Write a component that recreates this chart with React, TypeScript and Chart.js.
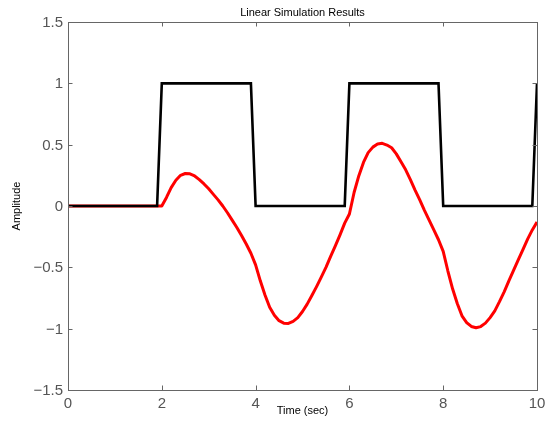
import React, { useEffect, useRef } from "react";
import { Chart, registerables } from "chart.js";

Chart.register(...registerables);

const titleText = "Linear Simulation Results";
const xLabel = "Time (sec)";
const yLabel = "Amplitude";

const xTicks = [0, 2, 4, 6, 8, 10];
const yTicks = [-1.5, -1, -0.5, 0, 0.5, 1, 1.5];

// Input signal (square wave)
const inputTime = [0, 1.9, 2, 3.9, 4, 5.9, 6, 7.9, 8, 9.9, 10];
const inputValue = [0, 0, 1, 1, 0, 0, 1, 1, 0, 0, 1];

// Simulated response
const responseTime = [
  0, 2.0, 2.1, 2.2, 2.3, 2.4, 2.5, 2.6, 2.7, 2.8, 2.9,
  3.0, 3.1, 3.2, 3.3, 3.4, 3.5, 3.6, 3.7, 3.8, 3.9,
  4.0, 4.1, 4.2, 4.3, 4.4, 4.5, 4.6, 4.7, 4.8, 4.9,
  5.0, 5.1, 5.2, 5.3, 5.4, 5.5, 5.6, 5.7, 5.8, 5.9,
  6.0, 6.1, 6.2, 6.3, 6.4, 6.5, 6.6, 6.7, 6.8, 6.9,
  7.0, 7.1, 7.2, 7.3, 7.4, 7.5, 7.6, 7.7, 7.8, 7.9,
  8.0, 8.1, 8.2, 8.3, 8.4, 8.5, 8.6, 8.7, 8.8, 8.9,
  9.0, 9.1, 9.2, 9.3, 9.4, 9.5, 9.6, 9.7, 9.8, 9.9,
  10.0,
];
const responseValue = [
  0, 0, 0.07, 0.15, 0.21, 0.25, 0.265, 0.262, 0.245, 0.215, 0.18,
  0.14, 0.095, 0.05, 0.0, -0.055, -0.115, -0.175, -0.24, -0.31, -0.385,
  -0.48, -0.61, -0.725, -0.825, -0.89, -0.935, -0.955, -0.957, -0.94, -0.91,
  -0.86, -0.8, -0.73, -0.657, -0.58, -0.5, -0.41, -0.325, -0.235, -0.14,
  -0.065, 0.11, 0.245, 0.355, 0.435, 0.48, 0.505, 0.511, 0.497, 0.475,
  0.425, 0.36, 0.295, 0.215, 0.13, 0.05, -0.035, -0.115, -0.195, -0.275,
  -0.37, -0.53, -0.675, -0.795, -0.895, -0.95, -0.982, -0.993, -0.983, -0.955,
  -0.91, -0.855, -0.78, -0.7, -0.61, -0.525, -0.44, -0.355, -0.27, -0.195,
  -0.13,
];

const FONT = "'Liberation Sans', Arial, Helvetica, sans-serif";
const AXIS_COLOR = "#666666";
const TICK_TEXT = "#555555";

const fmt = (v: number) => (v < 0 ? "\u2212" + String(Math.abs(v)) : String(v));

const decorPlugin = {
  id: "matlabDecor",
  afterDraw(chart: any) {
    const { ctx, chartArea } = chart;
    const xs = chart.scales.x;
    const ys = chart.scales.y;
    const { left, right, top, bottom } = chartArea;
    ctx.save();
    // box
    ctx.strokeStyle = AXIS_COLOR;
    ctx.lineWidth = 1;
    ctx.strokeRect(Math.round(left) + 0.5, Math.round(top) + 0.5, Math.round(right - left), Math.round(bottom - top));
    // ticks inward
    const tl = 4.5;
    ctx.beginPath();
    xTicks.forEach((v) => {
      const px = Math.round(xs.getPixelForValue(v)) + 0.5;
      ctx.moveTo(px, bottom);
      ctx.lineTo(px, bottom - tl);
      ctx.moveTo(px, top);
      ctx.lineTo(px, top + tl);
    });
    yTicks.forEach((v) => {
      const py = Math.round(ys.getPixelForValue(v)) + 0.5;
      ctx.moveTo(left, py);
      ctx.lineTo(left + tl, py);
      ctx.moveTo(right, py);
      ctx.lineTo(right - tl, py);
    });
    ctx.stroke();
    // tick labels
    ctx.fillStyle = TICK_TEXT;
    ctx.font = `15px ${FONT}`;
    ctx.textAlign = "center";
    ctx.textBaseline = "middle";
    xTicks.forEach((v) => {
      ctx.fillText(fmt(v), xs.getPixelForValue(v), bottom + 14);
    });
    ctx.textAlign = "right";
    yTicks.forEach((v) => {
      ctx.fillText(fmt(v), left - 5, ys.getPixelForValue(v) + 1);
    });
    // titles
    ctx.fillStyle = "#000000";
    ctx.font = `11px ${FONT}`;
    ctx.textAlign = "center";
    ctx.textBaseline = "middle";
    ctx.fillText(titleText, (left + right) / 2, 13);
    ctx.fillText(xLabel, (left + right) / 2, 411);
    ctx.translate(17, (top + bottom) / 2);
    ctx.rotate(-Math.PI / 2);
    ctx.fillText(yLabel, 0, 0);
    ctx.restore();
  },
};

export default function App() {
  const canvasRef = useRef<HTMLCanvasElement | null>(null);

  useEffect(() => {
    const canvas = canvasRef.current;
    if (!canvas) return;
    const chart = new Chart(canvas, {
      type: "line",
      data: {
        datasets: [
          {
            label: "Input",
            data: inputTime.map((t, i) => ({ x: t, y: inputValue[i] })),
            borderColor: "#000000",
            borderWidth: 2.6,
            pointRadius: 0,
            tension: 0,
            fill: false,
          },
          {
            label: "Response",
            data: responseTime.map((t, i) => ({ x: t, y: responseValue[i] })),
            borderColor: "#ff0000",
            borderWidth: 3,
            pointRadius: 0,
            tension: 0,
            borderJoinStyle: "round",
            fill: false,
          },
        ],
      },
      options: {
        responsive: false,
        animation: false,
        devicePixelRatio: 1,
        layout: { padding: { top: 22, right: 10, left: 0, bottom: 0 } },
        plugins: {
          legend: { display: false },
          title: { display: false },
          tooltip: { enabled: false },
        },
        scales: {
          x: {
            type: "linear",
            min: 0,
            max: 10,
            grid: { display: false, drawTicks: false },
            border: { display: false },
            ticks: { display: false },
            afterFit: (s: any) => {
              s.height = 39;
            },
          },
          y: {
            type: "linear",
            min: -1.5,
            max: 1.5,
            grid: { display: false, drawTicks: false },
            border: { display: false },
            ticks: { display: false },
            afterFit: (s: any) => {
              s.width = 68;
            },
          },
        },
      },
      plugins: [decorPlugin],
    });
    return () => chart.destroy();
  }, []);

  return (
    <div style={{ position: "fixed", left: 0, top: 0, width: 547, height: 429, background: "#ffffff" }}>
      <canvas ref={canvasRef} width={547} height={429} style={{ width: 547, height: 429 }} />
    </div>
  );
}
